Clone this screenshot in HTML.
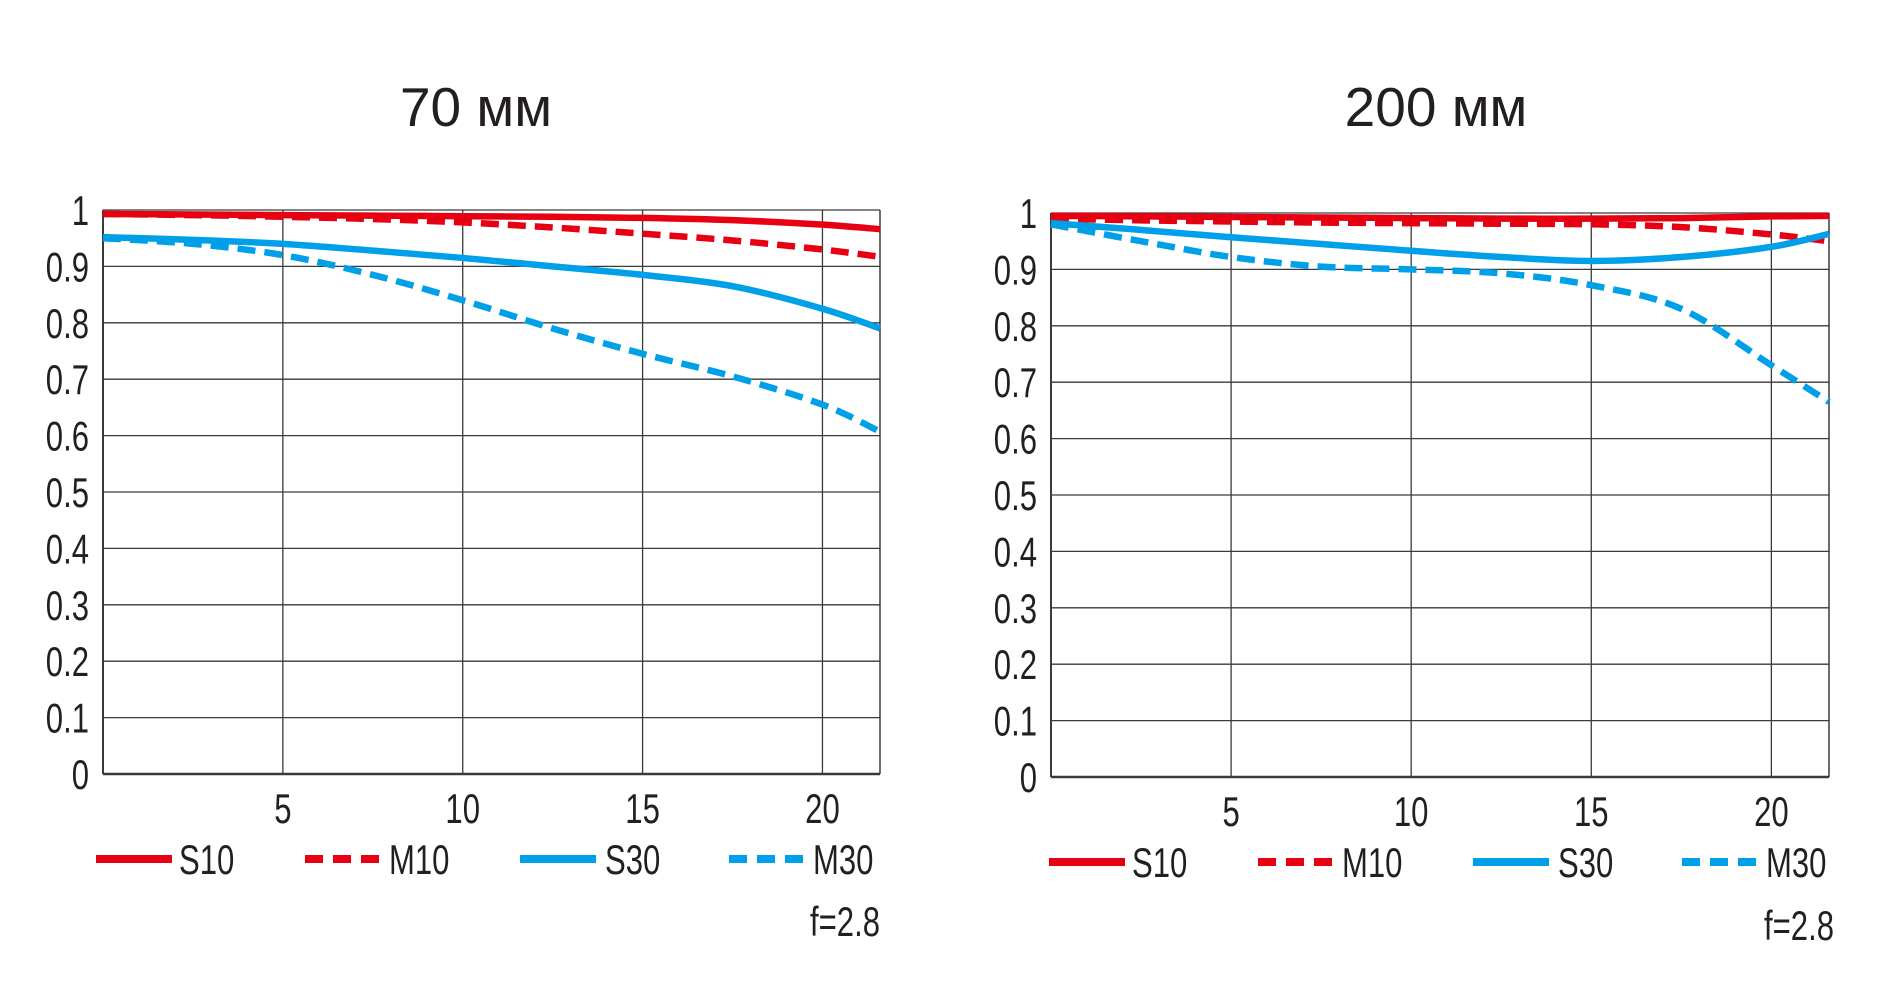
<!DOCTYPE html>
<html><head><meta charset="utf-8">
<style>
html,body{margin:0;padding:0;background:#fff;}
svg{display:block;}
text{font-family:"Liberation Sans Narrow","Liberation Sans",sans-serif;fill:#231f20;}
</style></head>
<body>
<svg id="root" width="1902" height="996" viewBox="0 0 1902 996" xmlns="http://www.w3.org/2000/svg"></svg>
<script>
const xTicks = [5, 10, 15, 20];
const yTicks = ["0","0.1","0.2","0.3","0.4","0.5","0.6","0.7","0.8","0.9","1"];
const seriesNames = ["S10","M10","S30","M30"];
const xs = [0, 2.5, 5, 7.5, 10, 12.5, 15, 17.5, 20, 21.6];
const left_S10 = [0.993,0.992,0.991,0.990,0.989,0.988,0.986,0.982,0.974,0.966];
const left_M10 = [0.993,0.991,0.988,0.984,0.978,0.969,0.958,0.946,0.930,0.917];
const left_S30 = [0.952,0.947,0.940,0.928,0.915,0.900,0.885,0.865,0.825,0.790];
const left_M30 = [0.950,0.940,0.920,0.885,0.840,0.790,0.745,0.705,0.655,0.607];
const right_S10 = [0.995,0.994,0.993,0.992,0.991,0.990,0.990,0.991,0.994,0.995];
const right_M10 = [0.990,0.987,0.985,0.983,0.982,0.981,0.980,0.975,0.962,0.950];
const right_S30 = [0.982,0.970,0.957,0.945,0.933,0.922,0.915,0.922,0.940,0.963];
const right_M30 = [0.980,0.950,0.922,0.905,0.900,0.893,0.872,0.830,0.730,0.665];
const titles = ["70 мм","200 мм"];

const NS="http://www.w3.org/2000/svg";
const root=document.getElementById('root');
function mk(tag,attrs,parent){const e=document.createElementNS(NS,tag);for(const k in attrs)e.setAttribute(k,attrs[k]);(parent||root).appendChild(e);return e;}
function ntext(x,y,anchor,size,parent){
  return mk('text',{x:0,y:0,'text-anchor':anchor,'font-size':size,transform:`translate(${x},${y}) scale(0.74,1)`},parent);
}

const charts=[
 {x0:103,x1:880,y0:210,y1:774,xMax:21.6,title:titles[0],tx:476,ty:126,data:[left_S10,left_M10,left_S30,left_M30],xlY:823,legY:859,legDx:0,fX:880,fY:936},
 {x0:1051,x1:1829,y0:213,y1:777,xMax:21.6,title:titles[1],tx:1436,ty:126,data:[right_S10,right_M10,right_S30,right_M30],xlY:826,legY:862,legDx:953,fX:1834,fY:940}
];
const colors=["#e60012","#e60012","#00a0e9","#00a0e9"];
const dashes=[null,"18 9",null,"18 9"];

function smooth(pts){
  let d=`M${pts[0][0]},${pts[0][1]}`;
  for(let i=0;i<pts.length-1;i++){
    const p0=pts[Math.max(0,i-1)],p1=pts[i],p2=pts[i+1],p3=pts[Math.min(pts.length-1,i+2)];
    const c1=[p1[0]+(p2[0]-p0[0])/6,p1[1]+(p2[1]-p0[1])/6];
    const c2=[p2[0]-(p3[0]-p1[0])/6,p2[1]-(p3[1]-p1[1])/6];
    d+=` C${c1[0]},${c1[1]} ${c2[0]},${c2[1]} ${p2[0]},${p2[1]}`;
  }
  return d;
}

charts.forEach((c,ci)=>{
  const g=mk('g',{});
  
  
  const sx=v=>c.x0+(c.x1-c.x0)*v/c.xMax;
  const sy=v=>c.y1-(c.y1-c.y0)*v;
  const t=mk('text',{x:c.tx,y:c.ty,'text-anchor':'middle','font-size':55,style:'font-family:"Liberation Sans",sans-serif'},g);
  t.textContent=c.title;
  
  
  yTicks.forEach((lab,i)=>{
    const v=i/10;
    const l=mk('line',{x1:c.x0,x2:c.x1,y1:sy(v),y2:sy(v),stroke:'#3a3a3a','stroke-width':i===0?2.5:1.3},g);
    
    
    const tx=ntext(c.x0-14,sy(v)+15,'end',42,g);
    tx.textContent=lab;
    
    
  });
  [0].concat(xTicks).forEach(v=>{
    const l=mk('line',{x1:sx(v),x2:sx(v),y1:c.y0,y2:c.y1,stroke:'#3a3a3a','stroke-width':v===0?2:1.3},g);
    
    
  });
  const rl=mk('line',{x1:c.x1,x2:c.x1,y1:c.y0,y2:c.y1,stroke:'#3a3a3a','stroke-width':1.5},g);
  
  
  xTicks.forEach(v=>{
    const tx=ntext(sx(v),c.xlY,'middle',42,g);
    tx.textContent=v;
    
    
  });
  c.data.forEach((arr,si)=>{
    const pts=arr.map((v,i)=>[sx(xs[i]),sy(v)]);
    const a={d:smooth(pts),fill:'none',stroke:colors[si],'stroke-width':6.5};
    if(dashes[si])a['stroke-dasharray']=dashes[si];
    const p=mk('path',a,g);
    
    
  });
  const legX=[[96,179],[305,389],[520,605],[729,813]];
  seriesNames.forEach((n,si)=>{
    const lg=mk('g',{},g);
    
    
    const lx=legX[si][0]+c.legDx;
    const la={x1:lx,x2:lx+76,y1:c.legY,y2:c.legY,stroke:colors[si],'stroke-width':8};
    if(dashes[si])la['stroke-dasharray']='18 10';
    mk('line',la,lg);
    const tx=ntext(legX[si][1]+c.legDx,c.legY+15,'start',42,lg);
    tx.textContent=n;
  });
  const f=ntext(c.fX,c.fY,'end',42,g);
  f.textContent='f=2.8';
  
  
});
</script>
</body></html>
